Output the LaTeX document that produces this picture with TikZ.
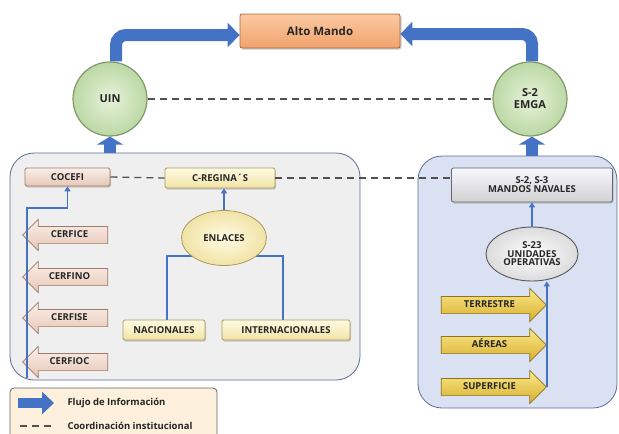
\documentclass[tikz,border=0pt]{standalone}
\usepackage{fontspec}
\setmainfont{Open Sans}
\usetikzlibrary{arrows.meta,shapes.geometric,shapes.arrows,shadows,calc}
\definecolor{flow}{HTML}{4472C4}
\definecolor{dashc}{HTML}{505050}
\definecolor{pinkT}{HTML}{FBF0EA}
\definecolor{pinkB}{HTML}{E6C6B5}
\definecolor{pinkD}{HTML}{9C7B68}
\definecolor{yelT}{HTML}{FFFBE3}
\definecolor{yelB}{HTML}{F1E3A6}
\definecolor{yelD}{HTML}{A89A5E}
\definecolor{goldT}{HTML}{FBE98A}
\definecolor{goldB}{HTML}{D8AE2E}
\definecolor{goldD}{HTML}{8E7420}
\definecolor{grnI}{HTML}{E6F2DA}
\definecolor{grnO}{HTML}{BCD8A4}
\definecolor{grnD}{HTML}{7F9870}
\definecolor{lbfill}{HTML}{EFEFEF}
\definecolor{rbfill}{HTML}{D9E1F2}
\definecolor{boxD}{HTML}{5B6C96}
\definecolor{amT}{HTML}{FAC9A2}
\definecolor{amB}{HTML}{F2A36C}
\definecolor{amD}{HTML}{A8683C}
\definecolor{legF}{HTML}{FDF0DC}
\begin{document}
\begin{tikzpicture}[x=1pt,y=-1pt,
  lab/.style={font=\fontsize{9.5}{11}\selectfont\bfseries, text=black!85},
  bigflow/.style={draw=flow, line width=12pt, rounded corners=10pt, -{Triangle[width=24pt,length=12pt]}},
  upflow/.style={draw=flow, line width=12pt, -{Triangle[width=26pt,length=8pt]}},
  thinflow/.style={draw=flow, line width=1.6pt, -{Triangle[width=6pt,length=5pt]}},
  thinline/.style={draw=flow, line width=1.6pt},
  coord/.style={draw=dashc, line width=1.3pt, dash pattern=on 7pt off 5pt},
  bigbox/.style={draw=boxD, line width=0.8pt, rounded corners=24pt},
  shad/.style={drop shadow={opacity=0.35, shadow xshift=1pt, shadow yshift=-1.5pt}},
  pinkbox/.style={lab, rectangle, rounded corners=1.5pt, draw=pinkD, line width=0.8pt,
    top color=pinkT, bottom color=pinkB, shad},
  yelbox/.style={lab, rectangle, rounded corners=1.5pt, draw=yelD, line width=0.8pt,
    top color=yelT, bottom color=yelB, shad},
  leftarrow/.style={lab, single arrow, shape border rotate=180, single arrow head extend=7pt,
    text height=7pt, text depth=1.5pt, inner ysep=4pt, minimum height=85pt,
    draw=pinkD, line width=0.7pt, top color=pinkT, bottom color=pinkB},
  rightarrow/.style={lab, single arrow, single arrow head extend=8pt,
    text height=7pt, text depth=1.5pt, inner ysep=4pt, minimum height=105pt,
    draw=goldD, line width=0.7pt, top color=goldT, bottom color=goldB},
  circ/.style={circle, minimum size=74pt, inner sep=0pt, draw=grnD, line width=1.2pt,
    inner color=grnI, outer color=grnO,
    font=\fontsize{11}{13}\selectfont\bfseries, align=center, text=black!85}
]
\useasboundingbox (0,0) rectangle (619,434);

% big containers
\draw[bigbox, fill=lbfill] (10,153) rectangle (360,380);
\node[inner sep=0pt, minimum width=350pt, minimum height=227pt] (LB) at (185,266.5) {};
\draw[bigbox, fill=rbfill] (418,156) rectangle (617,408);
\node[inner sep=0pt, minimum width=199pt, minimum height=252pt] (RB) at (517.5,282) {};

% top
\node[rectangle, minimum width=160pt, minimum height=34pt, rounded corners=2pt, draw=amD, line width=0.8pt,
  top color=amT, bottom color=amB,
  drop shadow={opacity=0.4, shadow xshift=1.5pt, shadow yshift=-1.5pt},
  font=\fontsize{11.5}{13}\selectfont\bfseries, text=black!85] (AM) at (320,31) {Alto Mando};
\node[circ] (UIN) at (110,99) {UIN};
\node[circ] (S2) at (530,99) {S-2\\[-1pt]EMGA};

\draw[bigflow] ([xshift=6pt]UIN.north) |- ([yshift=-4pt]AM.west);
\draw[bigflow] ([xshift=2pt]S2.north) |- ([yshift=-3pt]AM.east);
\draw[coord] (UIN.east) -- (S2.west);
\draw[upflow] (UIN.south |- LB.north) -- (UIN.south);
\draw[upflow] ([xshift=2pt]S2.south |- RB.north) -- ([xshift=2pt]S2.south);

% left container
\node[pinkbox, minimum width=85pt, minimum height=18pt] (COC) at (67.5,177) {COCEFI};
\node[yelbox, minimum width=110pt, minimum height=20pt] (CRG) at (220,178) {C-REGINA´S};
\node[yelbox, minimum width=82pt, minimum height=20pt] (NAC) at (164,330) {NACIONALES};
\node[yelbox, minimum width=128pt, minimum height=20pt] (INT) at (286,330) {INTERNACIONALES};

\draw[thinline] ([xshift=3pt]NAC.north) |- (283,256) -- ([xshift=-3pt]INT.north);
\node[ellipse, minimum width=85pt, minimum height=55pt, inner sep=0pt, draw=yelD, line width=0.8pt,
  inner color=yelT, outer color=yelB, lab] (ENL) at (224,238) {ENLACES};
\draw[thinflow] (ENL.north) -- (ENL.north |- CRG.south);

\node[leftarrow] (CE1) at (69.5,235) {CERFICE};
\node[leftarrow] (CE2) at (69.5,277) {CERFINO};
\node[leftarrow] (CE3) at (69.5,318) {CERFISE};
\node[leftarrow] (CE4) at (69.5,362) {CERFIOC};

\coordinate (lbot) at (27,378);
\coordinate (lknee) at (27,208);
\draw[thinflow] (lbot) -- (lknee) -| (COC.south);

% right container
\node[rectangle, minimum width=161pt, minimum height=34pt, rounded corners=2pt, draw=gray!80!black, line width=0.8pt,
  top color=white!97!blue, bottom color=black!18, lab, align=center,
  drop shadow={opacity=0.35, shadow xshift=1pt, shadow yshift=-1.5pt}] (MN) at (532,185) {S-2, S-3\\[-2pt]MANDOS NAVALES};
\node[ellipse, minimum width=92pt, minimum height=54pt, inner sep=0pt, draw=gray!70!black, line width=0.9pt,
  inner color=white, outer color=black!14, lab, align=center] (S23) at (532,254) {S-23\\[-2.5pt]UNIDADES\\[-2.5pt]OPERATIVAS};
\draw[thinflow] (S23.north) -- (S23.north |- MN.south);

\node[rightarrow] (TER) at (489.5,305) {TERRESTRE};
\node[rightarrow] (AER) at (489.5,345) {AÉREAS};
\node[rightarrow] (SUP) at (489.5,387) {SUPERFICIE};
\draw[thinflow] (SUP.tip) -- (SUP.tip |- S23.south);

% coordination dashes
\draw[coord] (COC.east) -- (CRG.west);
\draw[coord] (CRG.east) -- (CRG.east -| MN.west);

% legend
\draw[draw=gray!80!black, line width=0.8pt, fill=legF, rounded corners=4pt] (10,388) rectangle (217,445);
\coordinate (la1) at (18,403);
\coordinate (la2) at (54,403);
\draw[draw=flow, line width=10pt, -{Triangle[width=22pt,length=12pt]}] (la1) -- (la2);
\node[anchor=west, font=\fontsize{9.5}{11}\selectfont\bfseries, text=black!85] (L1) at (64,403) {Flujo de Información};
\coordinate (ld1) at (20,426);
\coordinate (ld2) at (54,426);
\draw[coord] (ld1) -- (ld2);
\node[anchor=west, font=\fontsize{9.5}{11}\selectfont\bfseries, text=black!85] (L2) at (64,426) {Coordinación institucional};
\end{tikzpicture}
\end{document}
